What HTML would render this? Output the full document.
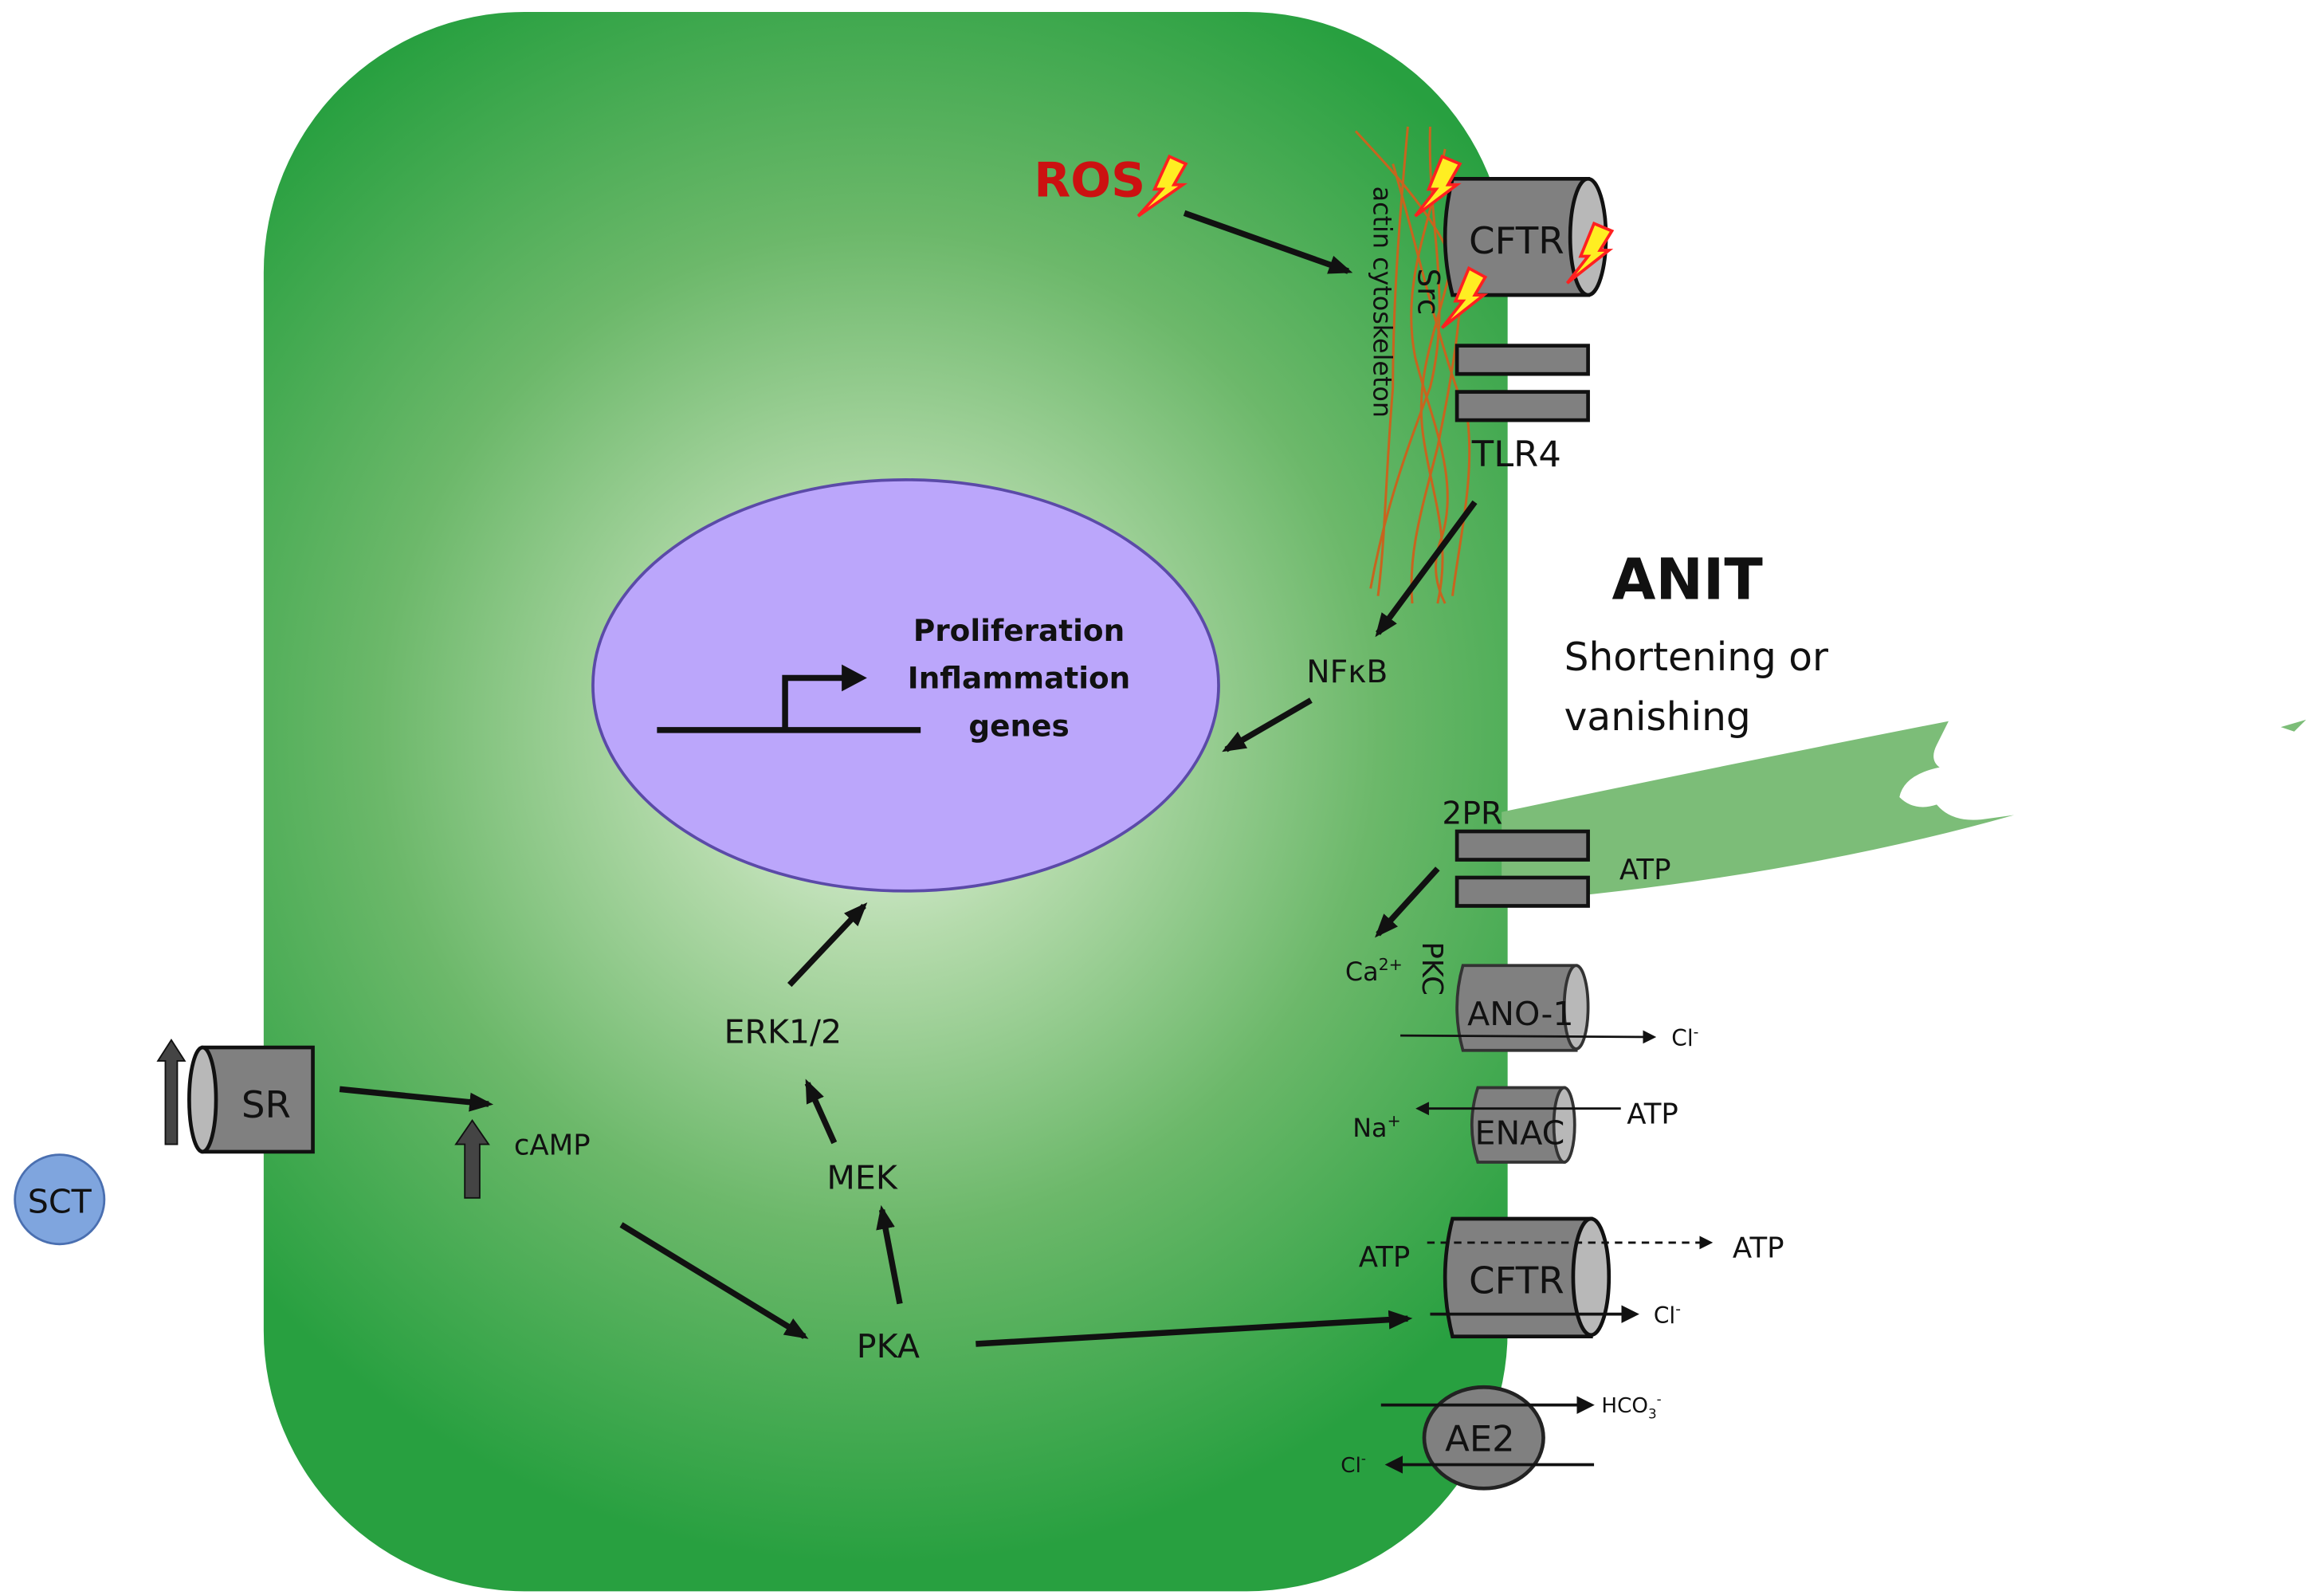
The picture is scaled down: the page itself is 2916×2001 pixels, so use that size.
<!DOCTYPE html>
<html><head><meta charset="utf-8"><style>
html,body{margin:0;padding:0;background:#fff}
svg{display:block}
text{font-family:"DejaVu Sans","Liberation Sans",sans-serif;fill:#111}
</style></head><body>
<svg width="2916" height="2001" viewBox="0 0 1560 1070.5" preserveAspectRatio="none" xmlns="http://www.w3.org/2000/svg">
<defs>
<radialGradient id="g" cx="590" cy="490" r="560" gradientUnits="userSpaceOnUse">
<stop offset="0" stop-color="#eef7ec"/>
<stop offset="0.25" stop-color="#b5dbac"/>
<stop offset="0.6" stop-color="#6cb86a"/>
<stop offset="1" stop-color="#28a040"/>
</radialGradient>
<marker id="a" viewBox="0 0 10 10" refX="8" refY="5" markerWidth="6" markerHeight="6" orient="auto"><path d="M0,0L10,5L0,10z" fill="#111"/></marker>
<marker id="s" viewBox="0 0 10 10" refX="8" refY="5" markerWidth="4" markerHeight="4" orient="auto"><path d="M0,1L10,5L0,9z" fill="#111"/></marker>
</defs>
<rect x="177" y="8" width="835" height="1060" rx="175" fill="url(#g)"/>
<!-- cilium -->
<path d="M1008,545 Q1150,515 1308,484 L1300,500 Q1295,510 1302,515 Q1278,520 1275,535 Q1285,545 1300,540 Q1310,552 1330,550 L1352,547 Q1200,590 1008,606 Z" fill="#7cbd78"/>
<path d="M1531,488 L1548,483 L1540,491Z" fill="#7cbd78"/>
<!-- actin -->
<g fill="none" stroke="#c8641e" stroke-width="1.6">
<path d="M910,88 C930,110 960,140 975,175 C965,220 950,250 955,290 C960,330 975,360 965,405"/>
<path d="M945,85 C940,140 935,200 935,260 C930,320 930,360 925,400"/>
<path d="M960,85 C958,150 975,200 960,260 C945,300 930,340 920,395"/>
<path d="M970,100 C960,150 940,190 950,240 C960,280 980,320 968,360 C960,380 965,395 970,405"/>
<path d="M980,140 C985,200 975,250 965,300 C955,340 945,370 948,405"/>
<path d="M935,110 C950,160 965,230 985,280 C990,320 980,360 975,400"/>
</g>
<text transform="translate(922,125) rotate(90)" font-size="17">actin cytoskeleton</text>
<text transform="translate(952,180) rotate(90)" font-size="20">Src</text>
<!-- CFTR top -->
<path d="M975,120 L1066,120 L1066,198 L975,198 Q965,159 975,120Z" fill="#808080" stroke="#111" stroke-width="2.5"/>
<ellipse cx="1066" cy="159" rx="12" ry="39" fill="#b8b8b8" stroke="#111" stroke-width="2.5"/>
<text x="986" y="170" font-size="25">CFTR</text>
<!-- bolts -->
<g fill="#ffee22" stroke="#ff2020" stroke-width="2">
<path d="M785,105 L796,110 L788,124 L794,124 L764,145 L780,127 L775,127Z"/>
<path d="M968,105 L980,110 L972,124 L978,124 L950,145 L964,127 L959,127Z"/>
<path d="M1070,150 L1082,155 L1074,168 L1080,168 L1052,190 L1066,172 L1061,172Z"/>
<path d="M986,180 L997,186 L990,198 L996,198 L968,220 L982,202 L977,202Z"/>
</g>
<text x="694" y="132" font-size="32" font-weight="bold" style="fill:#cc1111">ROS</text>
<line x1="795" y1="143" x2="905" y2="182" stroke="#111" stroke-width="4" marker-end="url(#s)"/>
<!-- TLR4 -->
<rect x="978" y="232" width="88" height="19" fill="#808080" stroke="#111" stroke-width="2.5"/>
<rect x="978" y="263" width="88" height="19" fill="#808080" stroke="#111" stroke-width="2.5"/>
<text x="988" y="313" font-size="24">TLR4</text>
<line x1="990" y1="337" x2="925" y2="425" stroke="#111" stroke-width="4" marker-end="url(#s)"/>
<text x="877" y="458" font-size="21">NFκB</text>
<line x1="880" y1="470" x2="823" y2="503" stroke="#111" stroke-width="4" marker-end="url(#s)"/>
<!-- nucleus -->
<ellipse cx="608" cy="460" rx="210" ry="138" fill="#bba6fb" stroke="#5b4aa8" stroke-width="2"/>
<path d="M441,490 L618,490 M527,490 L527,455 L570,455" fill="none" stroke="#111" stroke-width="4"/>
<path d="M565,446 L582,455 L565,464Z" fill="#111"/>
<g font-size="20" font-weight="bold" text-anchor="middle"><text x="684" y="430">Proliferation</text><text x="684" y="462">Inflammation</text><text x="684" y="494">genes</text></g>
<!-- ANIT -->
<text x="1082" y="402" font-size="38" font-weight="bold">ANIT</text>
<text x="1050" y="450" font-size="26">Shortening or</text>
<text x="1050" y="490" font-size="26">vanishing</text>
<!-- 2PR -->
<text x="968" y="553" font-size="21">2PR</text>
<rect x="978" y="558" width="88" height="19" fill="#808080" stroke="#111" stroke-width="2.5"/>
<rect x="978" y="589" width="88" height="19" fill="#808080" stroke="#111" stroke-width="2.5"/>
<text x="1087" y="590" font-size="19">ATP</text>
<line x1="965" y1="583" x2="925" y2="627" stroke="#111" stroke-width="4" marker-end="url(#s)"/>
<text x="903" y="658" font-size="17">Ca<tspan font-size="11" dy="-7">2+</tspan></text>
<text transform="translate(955,632) rotate(90)" font-size="19">PKC</text>
<!-- ANO-1 -->
<path d="M982,648 L1058,648 L1058,705 L982,705 Q974,676 982,648Z" fill="#808080" stroke="#333" stroke-width="2"/>
<ellipse cx="1058" cy="676" rx="8" ry="28" fill="#b8b8b8" stroke="#333" stroke-width="2"/>
<text x="985" y="688" font-size="22">ANO-1</text>
<line x1="940" y1="695" x2="1110" y2="696" stroke="#111" stroke-width="1.5" marker-end="url(#a)"/>
<text x="1122" y="702" font-size="15">Cl<tspan font-size="10" dy="-6">-</tspan></text>
<!-- ENaC -->
<path d="M992,730 L1050,730 L1050,780 L992,780 Q984,755 992,730Z" fill="#808080" stroke="#333" stroke-width="2"/>
<ellipse cx="1050" cy="755" rx="7" ry="25" fill="#b8b8b8" stroke="#333" stroke-width="2"/>
<text x="990" y="768" font-size="22">ENAC</text>
<line x1="1088" y1="744" x2="952" y2="744" stroke="#111" stroke-width="1.5" marker-end="url(#a)"/>
<text x="1092" y="754" font-size="19">ATP</text>
<text x="908" y="763" font-size="17">Na<tspan font-size="11" dy="-7">+</tspan></text>
<!-- CFTR bottom -->
<path d="M975,818 L1068,818 L1068,897 L975,897 Q965,857 975,818Z" fill="#808080" stroke="#111" stroke-width="2.5"/>
<ellipse cx="1068" cy="857" rx="12" ry="39" fill="#b8b8b8" stroke="#111" stroke-width="2.5"/>
<text x="986" y="868" font-size="25">CFTR</text>
<line x1="958" y1="834" x2="1148" y2="834" stroke="#111" stroke-width="1.5" stroke-dasharray="5,4" marker-end="url(#a)"/>
<text x="912" y="850" font-size="19">ATP</text>
<text x="1163" y="844" font-size="19">ATP</text>
<line x1="960" y1="882" x2="1098" y2="882" stroke="#111" stroke-width="2" marker-end="url(#a)"/>
<text x="1110" y="888" font-size="15">Cl<tspan font-size="10" dy="-6">-</tspan></text>
<!-- AE2 -->
<ellipse cx="996" cy="965" rx="40" ry="34" fill="#808080" stroke="#222" stroke-width="2.5"/>
<text x="970" y="974" font-size="24">AE2</text>
<line x1="927" y1="943" x2="1068" y2="943" stroke="#111" stroke-width="2" marker-end="url(#a)"/>
<text x="1075" y="948" font-size="14">HCO<tspan font-size="9" dy="4">3</tspan><tspan font-size="9" dy="-10">-</tspan></text>
<line x1="1070" y1="983" x2="932" y2="983" stroke="#111" stroke-width="2" marker-end="url(#a)"/>
<text x="900" y="988" font-size="14">Cl<tspan font-size="9" dy="-6">-</tspan></text>
<!-- left pathway -->
<circle cx="40" cy="805" r="30" fill="#7fa5de" stroke="#4a6fb0" stroke-width="1.5"/>
<text x="40" y="814" font-size="22" text-anchor="middle">SCT</text>
<path d="M136,703 L210,703 L210,773 L136,773 Q126,738 136,703Z" fill="#808080" stroke="#111" stroke-width="2.5"/>
<ellipse cx="136" cy="738" rx="9" ry="35" fill="#b8b8b8" stroke="#111" stroke-width="2.5"/>
<text x="162" y="750" font-size="25">SR</text>
<path d="M111,768 L111,712 L106,712 L115,698 L124,712 L119,712 L119,768Z" fill="#444" stroke="#111"/>
<path d="M312,804 L312,768 L306,768 L317,752 L328,768 L322,768 L322,804Z" fill="#444" stroke="#111"/>
<line x1="228" y1="731" x2="328" y2="741" stroke="#111" stroke-width="4" marker-end="url(#s)"/>
<text x="345" y="775" font-size="19">cAMP</text>
<line x1="417" y1="822" x2="540" y2="897" stroke="#111" stroke-width="4" marker-end="url(#s)"/>
<text x="575" y="911" font-size="22">PKA</text>
<line x1="655" y1="902" x2="945" y2="885" stroke="#111" stroke-width="4" marker-end="url(#s)"/>
<line x1="604" y1="875" x2="592" y2="812" stroke="#111" stroke-width="4" marker-end="url(#s)"/>
<text x="555" y="798" font-size="22">MEK</text>
<line x1="560" y1="767" x2="542" y2="727" stroke="#111" stroke-width="4" marker-end="url(#s)"/>
<text x="486" y="700" font-size="22">ERK1/2</text>
<line x1="530" y1="661" x2="580" y2="608" stroke="#111" stroke-width="4" marker-end="url(#s)"/>
</svg>
</body></html>
